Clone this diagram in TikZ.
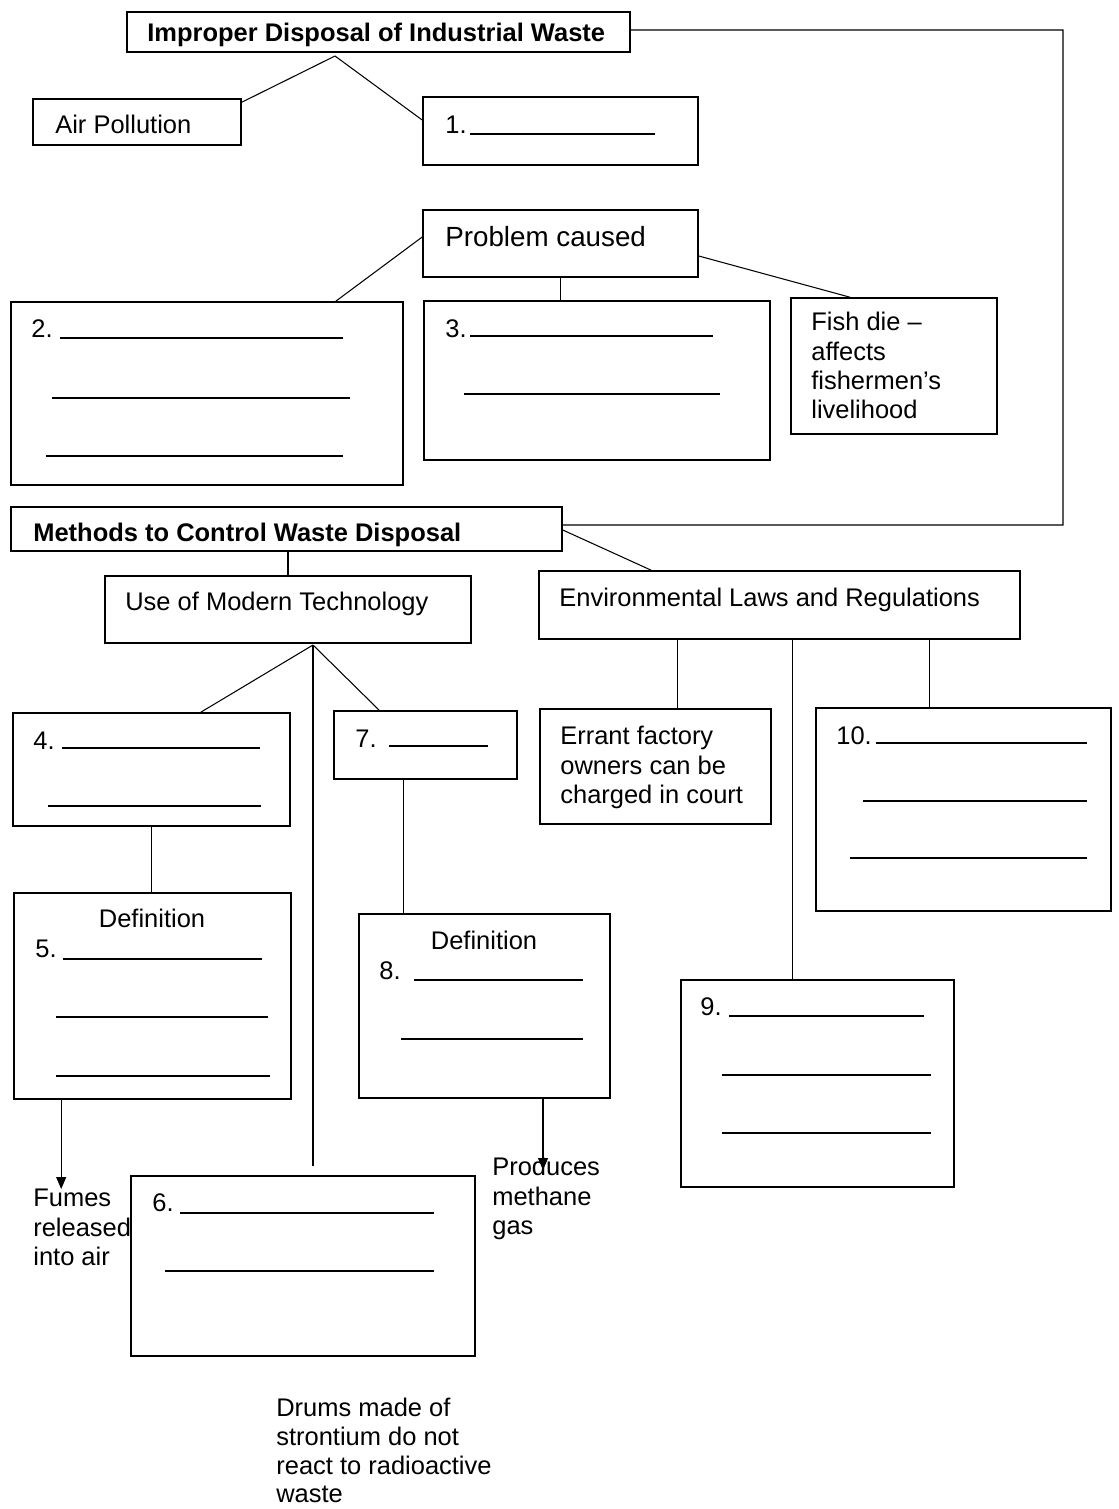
\documentclass[tikz,border=0pt]{standalone}
\usepackage{fontspec}
\setmainfont{Liberation Sans}
\usetikzlibrary{fit, arrows.meta}
\tikzset{
box/.style={draw, line width=0.9pt, inner sep=0pt},
txt/.style={anchor=base west, inner sep=0pt, font=\fontsize{14.5}{16.7}\selectfont},
btxt/.style={anchor=base west, inner sep=0pt, font=\fontsize{14.5}{16.7}\selectfont\bfseries},
note/.style={txt, anchor=north west, align=left},
blank/.style={line width=0.8pt},
link/.style={line width=0.6pt},
arr/.style={link, -{Triangle[length=0.24cm, width=0.2cm]}},
}

\begin{document}
\begin{tikzpicture}[x=0.02cm, y=-0.02cm]
    \useasboundingbox (0,0) rectangle (1119,1509);

    %boxes at the top
    \node[box, fit={(127,12) (630,52)}]    (title) {};
    \node[box, fit={(33,99) (241,145)}]      (air) {};
    \node[box, fit={(423,97) (698,165)}]     (one) {};
    \node[box, fit={(423,210) (698,277)}]   (prob) {};
    \node[box, fit={(11,302) (403,485)}]     (two) {};
    \node[box, fit={(424,301) (770,460)}]  (three) {};
    \node[box, fit={(791,298) (997,434)}]   (fish) {};

    %boxes of the control methods
    \node[box, fit={(11,507) (562,551)}]  (methods) {};
    \node[box, fit={(105,576) (471,643)}]     (tech) {};
    \node[box, fit={(539,571) (1020,639)}]     (env) {};
    \node[box, fit={(13,713) (290,826)}]      (four) {};
    \node[box, fit={(334,711) (517,779)}]    (seven) {};
    \node[box, fit={(14,893) (291,1099)}]     (five) {};
    \node[box, fit={(359,914) (610,1098)}]   (eight) {};
    \node[box, fit={(131,1176) (475,1356)}]    (six) {};
    \node[box, fit={(540,709) (771,824)}]   (errant) {};
    \node[box, fit={(816,708) (1111,911)}]     (ten) {};
    \node[box, fit={(681,980) (954,1187)}]    (nine) {};

    %texts
    \node[btxt] (titletext) at (147,41) {Improper Disposal of Industrial Waste};
    \node[txt]    (airtext) at (55,133) {Air Pollution};
    \node[txt]    (onenum) at (445,133) {1.};
    \node[txt, font=\fontsize{15.8}{18}\selectfont] (probtext) at (445,246) {Problem caused};
    \node[txt]    (twonum) at (31,337) {2.};
    \node[txt]  (threenum) at (445,337) {3.};
    \node[note]  (fishtext) at (811,312) {Fish die --\\affects\\fishermen's\\livelihood};
    \node[btxt] (methodstext) at (33,541) {Methods to Control Waste Disposal};
    \node[txt]   (techtext) at (125,610) {Use of Modern Technology};
    \node[txt]    (envtext) at (559,606) {Environmental Laws and Regulations};
    \node[txt]    (fournum) at (33,749) {4.};
    \node[txt]   (sevennum) at (355,747) {7.};
    \node[txt, anchor=base] (fivedef) at (152,927) {Definition};
    \node[txt]    (fivenum) at (35,957) {5.};
    \node[txt, anchor=base] (eightdef) at (484,949) {Definition};
    \node[txt]   (eightnum) at (379,979) {8.};
    \node[txt]     (sixnum) at (152,1211) {6.};
    \node[note]  (errantext) at (560,726) {Errant factory\\owners can be\\charged in court};
    \node[txt]     (tennum) at (836,744) {10.};
    \node[txt]    (ninenum) at (700,1015) {9.};
    \node[note]     (fumes) at (33,1189) {Fumes\\released\\into air};
    \node[note]   (methane) at (492,1157) {Produces\\methane\\gas};
    \node[note, font=\fontsize{14.5}{16.3}\selectfont] (drums) at (276,1398) {Drums made of\\strontium do not\\react to radioactive\\waste};

    %blanks to fill in
    \draw[blank] (470,134)--(655,134);
    \draw[blank] (60,338)--(343,338);
    \draw[blank] (52,398)--(350,398);
    \draw[blank] (46,456)--(343,456);
    \draw[blank] (470,336)--(713,336);
    \draw[blank] (464,394)--(720,394);
    \draw[blank] (62,748)--(260,748);
    \draw[blank] (48,806)--(261,806);
    \draw[blank] (389,746)--(488,746);
    \draw[blank] (63,959)--(262,959);
    \draw[blank] (56,1017)--(268,1017);
    \draw[blank] (56,1076)--(270,1076);
    \draw[blank] (414,980)--(583,980);
    \draw[blank] (401,1039)--(583,1039);
    \draw[blank] (180,1213)--(434,1213);
    \draw[blank] (165,1271)--(434,1271);
    \draw[blank] (876,743)--(1087,743);
    \draw[blank] (863,801)--(1087,801);
    \draw[blank] (850,858)--(1087,858);
    \draw[blank] (729,1016)--(924,1016);
    \draw[blank] (722,1075)--(931,1075);
    \draw[blank] (722,1133)--(931,1133);

    %connectors at the top
    \coordinate (tjoin) at (335,56);
    \draw[link] (tjoin)--([yshift=-0.08cm]air.north east);
    \draw[link] (tjoin)--([yshift=0.22cm]one.west);
    \draw[link] ([yshift=0.13cm]prob.west)--([xshift=-1.36cm]two.north east);
    \draw[link] (prob.south)--(prob.south |- three.north);
    \draw[link] ([yshift=-0.25cm]prob.east)--([xshift=-0.88cm]fish.north);

    % line round the right side
    \coordinate (rbend) at (1063,30);
    \draw[link] ([yshift=0.04cm]title.east)--(rbend)|-([yshift=0.08cm]methods.east);

    %connectors of the control methods
    \draw[link] ([xshift=0.03cm]methods.south)--([xshift=0.03cm]methods.south |- tech.north);
    \draw[link] ([yshift=-0.02cm]methods.east)--([xshift=2.26cm]env.north west);

    \coordinate (ujoin) at (313,645);
    \coordinate (uend) at (313,1166);
    \draw[link] (ujoin)--([xshift=-1.8cm]four.north east);
    \draw[link] (ujoin)--([xshift=0.92cm]seven.north west);
    \draw[link] (ujoin)--(uend);
    \draw[link] (four.south)--(four.south |- five.north);
    \draw[link] ([xshift=1.4cm]seven.south west)--([xshift=1.4cm]seven.south west |- eight.north);

    \coordinate (ptip) at (543,1170);
    \draw[arr] ([xshift=0.96cm]five.south west)--([xshift=0.96cm]five.south west |- fumes.north);
    \draw[arr] (eight.south -| ptip)--(ptip);

    \draw[link] ([xshift=2.78cm]env.south west)--([xshift=2.78cm]env.south west |- errant.north);
    \draw[link] ([xshift=5.08cm]env.south west)--([xshift=5.08cm]env.south west |- nine.north);
    \draw[link] ([xshift=7.82cm]env.south west)--([xshift=7.82cm]env.south west |- ten.north);

\end{tikzpicture}
\end{document}
